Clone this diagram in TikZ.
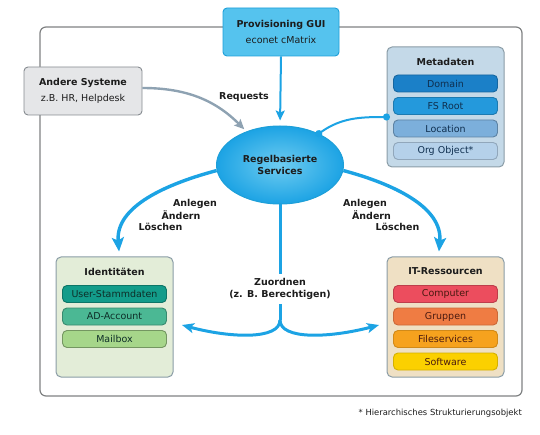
\documentclass[tikz,border=0pt]{standalone}
\usepackage{fontspec}
\setmainfont{DejaVu Sans}
\usetikzlibrary{positioning, arrows.meta, shapes.geometric, calc}

\definecolor{framegray}{HTML}{7F8182}
\definecolor{textdark}{HTML}{1C1C1C}
\definecolor{guifill}{HTML}{55C3EE}
\definecolor{guiline}{HTML}{1E9FD8}
\definecolor{arrowblue}{HTML}{1CA3E4}
\definecolor{arrowgray}{HTML}{8EA2B2}
\definecolor{grayfill}{HTML}{E5E6E8}
\definecolor{grayline}{HTML}{868B90}
\definecolor{metafill}{HTML}{C4D9E8}
\definecolor{identfill}{HTML}{E3EDD8}
\definecolor{itfill}{HTML}{EFE0C4}
\definecolor{panelline}{HTML}{8A9CA6}
% item colours
\definecolor{domainfill}{HTML}{1B80C8}
\definecolor{fsrootfill}{HTML}{2499DC}
\definecolor{locfill}{HTML}{7CAFDB}
\definecolor{orgfill}{HTML}{B5D1EA}
\definecolor{metatext}{HTML}{0F2F4F}
\definecolor{userfill}{HTML}{139C8A}
\definecolor{adfill}{HTML}{4BB894}
\definecolor{mailfill}{HTML}{A6D68A}
\definecolor{identtext}{HTML}{0E2E28}
\definecolor{compfill}{HTML}{EC4D5E}
\definecolor{grpfill}{HTML}{EF7C43}
\definecolor{filefill}{HTML}{F6A21E}
\definecolor{softfill}{HTML}{FBD000}
\definecolor{ittext}{HTML}{4A1A10}

\tikzstyle{box} = [rectangle, rounded corners=4pt, line width=0.9pt, align=center, text=textdark, font=\fontsize{9.5}{16}\selectfont]
\tikzstyle{panel} = [rectangle, rounded corners=5pt, minimum width=117pt, minimum height=120pt, line width=1pt, draw=panelline]
\tikzstyle{item} = [rectangle, rounded corners=4.5pt, minimum width=104pt, minimum height=17pt, inner sep=0pt, line width=0.9pt, font=\fontsize{9.5}{11}\selectfont]
\tikzstyle{metaitem} = [item, text=metatext]
\tikzstyle{identitem} = [item, text=identtext]
\tikzstyle{ititem} = [item, text=ittext]
\tikzstyle{title} = [font=\bfseries\fontsize{9.5}{11}\selectfont, text=textdark]
\tikzstyle{lbl} = [font=\bfseries\fontsize{9.5}{12}\selectfont, text=textdark, inner sep=0pt, align=center]
\tikzstyle{bigarrow} = [line width=3.4pt, draw=arrowblue, -{Stealth[length=14pt,width=12pt,inset=3pt]}]
\tikzstyle{bigline} = [line width=3pt, draw=arrowblue]
\tikzstyle{forkarrow} = [line width=3pt, draw=arrowblue, -{Stealth[length=12pt,width=10pt,inset=3pt]}]
\tikzstyle{thinarrow} = [line width=2pt, -{Stealth[length=10pt,width=9pt,inset=2pt]}]
\tikzstyle{dotline} = [line width=2pt, draw=arrowblue, {Circle[length=7pt]}-{Circle[length=7pt]}, shorten <=-3.5pt, shorten >=-3.5pt]

\begin{document}
\begin{tikzpicture}[x=1pt, y=-1pt, node distance=22.5pt]
\useasboundingbox (0,0) rectangle (540,435);

% outer frame
\draw[framegray, line width=1.2pt, rounded corners=6pt] (40,27) rectangle (522,396);

% top and centre
\node (gui) [box, fill=guifill, draw=guiline, minimum width=116pt, minimum height=48pt] at (281,32) {{\bfseries Provisioning GUI}\\econet cMatrix};
\node (andere) [box, fill=grayfill, draw=grayline, minimum width=118pt, minimum height=48pt] at (83,91) {{\bfseries Andere Systeme}\\z.B. HR, Helpdesk};
\node (regel) [ellipse, minimum width=127pt, minimum height=78pt, inner color=guifill!85!white, outer color=arrowblue, draw=guiline, line width=1pt, align=center, font=\bfseries\fontsize{9.5}{12}\selectfont, text=textdark] at (280,165) {Regelbasierte\\Services};

% Metadaten
\node (meta) [panel, fill=metafill] at (445.5,107) {};
\node (metaT) [title] at ([yshift=-15pt]meta.north) {Metadaten};
\node (domain) [metaitem, fill=domainfill, draw=domainfill!80!black] at ([yshift=-37pt]meta.north) {Domain};
\node (fsroot) [metaitem, fill=fsrootfill, draw=fsrootfill!80!black, below of=domain] {FS Root};
\node (location) [metaitem, fill=locfill, draw=locfill!75!black, below of=fsroot] {Location};
\node (orgobj) [metaitem, fill=orgfill, draw=orgfill!80!black, below of=location] {Org Object*};

% Identitaeten
\node (ident) [panel, fill=identfill] at (114.5,317) {};
\node (identT) [title] at ([yshift=-15pt]ident.north) {Identitäten};
\node (user) [identitem, fill=userfill, draw=userfill!75!black] at ([yshift=-37.5pt]ident.north) {User-Stammdaten};
\node (adacc) [identitem, fill=adfill, draw=adfill!75!black, below of=user] {AD-Account};
\node (mailbox) [identitem, fill=mailfill, draw=mailfill!70!black, below of=adacc] {Mailbox};

% IT-Ressourcen
\node (it) [panel, fill=itfill] at (445.5,317) {};
\node (itT) [title] at ([yshift=-15pt]it.north) {IT-Ressourcen};
\node (computer) [ititem, fill=compfill, draw=compfill!80!black] at ([yshift=-37.5pt]it.north) {Computer};
\node (gruppen) [ititem, fill=grpfill, draw=grpfill!85!black, below of=computer] {Gruppen};
\node (files) [ititem, fill=filefill, draw=filefill!85!black, below of=gruppen] {Fileservices};
\node (software) [ititem, fill=softfill, draw=softfill!85!black, below of=files] {Software};

% labels
\node (req) [lbl] at (244,97) {Requests};
\node (anlegenL) [lbl] at (195,204) {Anlegen};
\node (aendernL) [lbl] at (181,215.5) {Ändern};
\node (loeschenL) [lbl] at (160.5,227) {Löschen};
\node (anlegenR) [lbl] at (365,204) {Anlegen};
\node (aendernR) [lbl] at (371.5,215.5) {Ändern};
\node (loeschenR) [lbl] at (397.5,227) {Löschen};
\node (zuord) [lbl, inner sep=4pt] at (280,289) {Zuordnen\\(z. B. Berechtigen)};
\node (note) [anchor=east, inner sep=0pt, text=textdark, font=\fontsize{8.4}{10}\selectfont] at (522,413) {* Hierarchisches Strukturierungsobjekt};

% connectors
\draw [thinarrow, arrowblue, shorten >=5pt] (gui.south) -- (regel.north);
\draw [thinarrow, arrowgray, line width=2.4pt, shorten >=3pt] ([yshift=3pt]andere.east) to[out=0, in=135] (regel.135);
\draw [dotline] (regel.39) to[out=35, in=180] ([yshift=-10pt]meta.west);
\draw [bigarrow, shorten >=5pt] (regel.185) to[out=195, in=95] ([xshift=5pt]ident.north);
\draw [bigarrow, shorten >=5pt] (regel.355) to[out=-15, in=85] ([xshift=-7pt]it.north);

% Zuordnen fork
\coordinate (fork) at (280,320);
\coordinate (identIn) at (182,325);
\coordinate (itIn) at (379,325);
\draw [bigline] (regel.south) -- (zuord.north);
\draw [bigline] (zuord.south) -- (fork);
\draw [forkarrow] (fork) .. controls (280,340) and (230,338) .. (identIn);
\draw [forkarrow] (fork) .. controls (280,340) and (330,338) .. (itIn);

\end{tikzpicture}
\end{document}
